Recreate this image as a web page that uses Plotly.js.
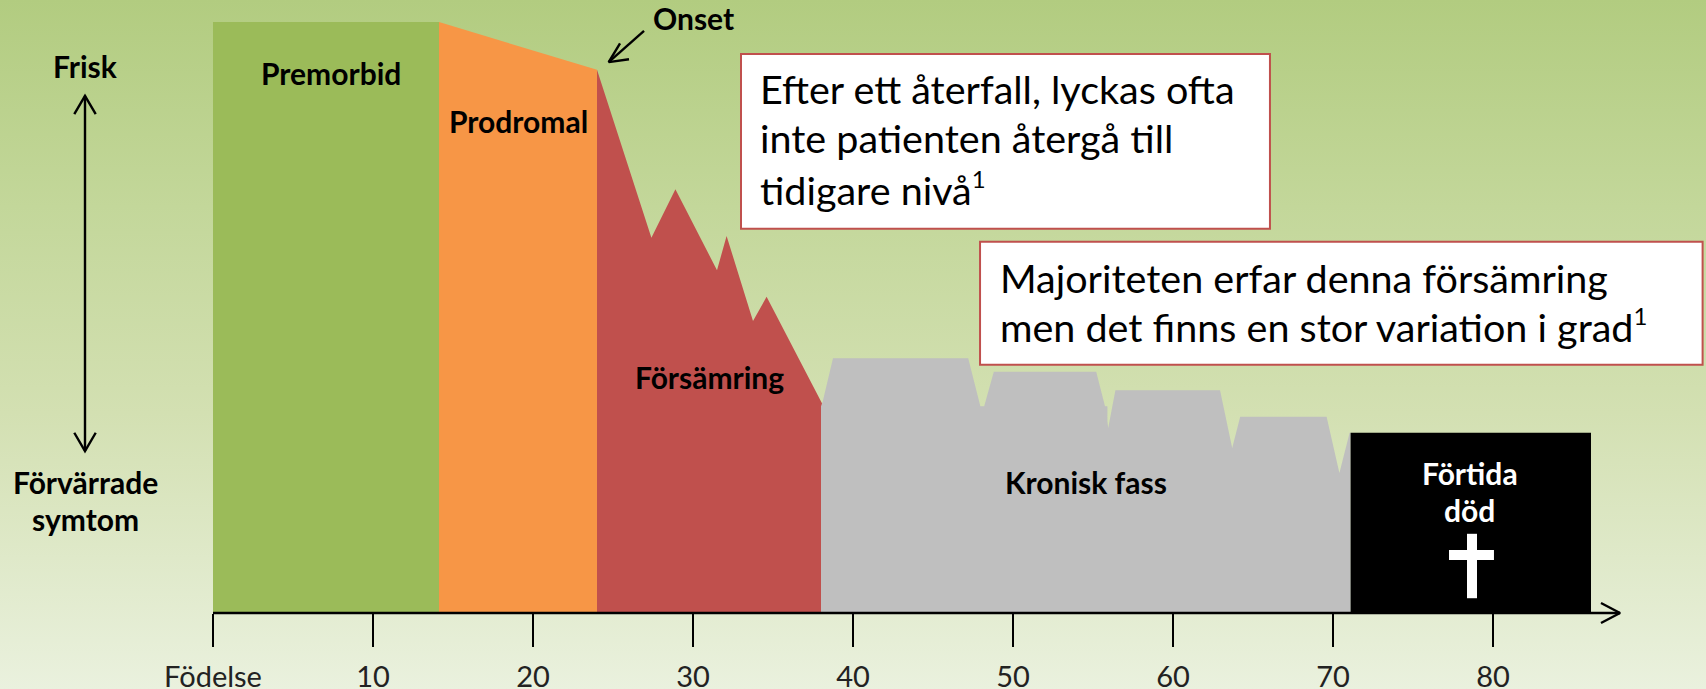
<!DOCTYPE html>
<html><head><meta charset="utf-8">
<script src="https://cdn.plot.ly/plotly-3.0.1.min.js"></script>
<style>
html,body{margin:0;padding:0;width:1706px;height:689px;overflow:hidden;background:linear-gradient(180deg,#b2cc80 0%,#c3d79a 30%,#d3e0b2 60%,#eaf1de 100%);}
#c{width:1706px;height:689px;}
</style></head><body><div id="c"></div>
<script>
const tickVals=[0,10,20,30,40,50,60,70,80];
const tickLabels=['Födelse','10','20','30','40','50','60','70','80'];
const premorbidAge=[0,14.125,14.125,0];
const premorbidLevel=[100,100,0,0];
const prodromalAge=[14.125,24,24,14.125];
const prodromalLevel=[100,91.9,0,0];
const worseningAge=[24,27.4,28.9,31.5,32.1,33.75,34.6,38.06,38.06,24];
const worseningLevel=[91.9,63.5,71.7,58,63.8,49.4,53.5,35.5,0,0];
const chronicAge=[38,38,38.1,38.75,47.2,47.96,48.2,48.8,55.2,55.75,55.9,55.9,55.95,56.4,62.94,63.7,64.2,69.6,70.4,71.04,71.1,71.1];
const chronicLevel=[0,35,35.7,43.1,43.1,35,35,40.8,40.8,35,35,32.5,31.3,37.7,37.7,27.9,33.2,33.2,23.7,30.5,30.5,0];
const deathAge=[71.1,86.125,86.125,71.1];
const deathLevel=[30.5,30.5,0,0];
const areaColors=['#9bbb59','#f79646','#c0504d','#bfbfbf','#000000'];

const areas=[[premorbidAge,premorbidLevel],[prodromalAge,prodromalLevel],[worseningAge,worseningLevel],[chronicAge,chronicLevel],[deathAge,deathLevel]];
const traces=areas.map((a,i)=>({x:a[0],y:a[1],type:'scatter',mode:'lines',fill:'toself',fillcolor:areaColors[i],line:{width:0,color:areaColors[i]},hoverinfo:'skip',showlegend:false}));

const arrowX=[0,87.94,null,86.75,87.94,86.75,null,-8,-8,null,-8.67,-8,-7.33,null,-8.67,-8,-7.33,null,26.94,24.73,null,26,24.73,25.44];
const arrowY=[0,0,null,1.7,0,-1.7,null,87.5,27.4,null,84.4,87.5,84.4,null,30.5,27.4,30.5,null,98.5,93.2,null,93.7,93.2,96.4];
traces.push({x:arrowX,y:arrowY,type:'scatter',mode:'lines',line:{color:'#000',width:2.4},cliponaxis:false,hoverinfo:'skip',showlegend:false,connectgaps:false});

const boldLabels=[['Onset',30,100.6],['Premorbid',7.375,91.4],['Prodromal',19.1,83.3],['Försämring',31,39.9],['Kronisk fass',54.56,22.1],['Frisk',-8,92.6],['Förvärrade',-8,22.2],['symtom',-8,15.9]];
const whiteLabels=[['Förtida',78.56,23.65],['död',78.56,17.46]];
const sup1='<sup><span style="font-size:24px">1</span></sup>';
const boxLines=[['Efter ett återfall, lyckas ofta',34.05,88.8],['inte patienten återgå till',34.05,80.5],['tidigare nivå'+sup1,34.05,71.9],['Majoriteten erfar denna försämring',49.05,56.8],['men det finns en stor variation i grad'+sup1,49.05,48.7]];
const boxes=[[33,66.06,65,94.6],[47.94,93.1,42,62.8]];
const crossBars=[[78.375,79,2.5,13.4],[77.25,80.06,8.97,10.66]];

const F='Lato, sans-serif';
const ann=[];
boldLabels.forEach(l=>ann.push({x:l[1],y:l[2],text:'<b>'+l[0]+'</b>',showarrow:false,xanchor:'center',yanchor:'middle',font:{family:F,size:30,color:'#000'}}));
whiteLabels.forEach(l=>ann.push({x:l[1],y:l[2],text:'<b>'+l[0]+'</b>',showarrow:false,xanchor:'center',yanchor:'middle',font:{family:F,size:30,color:'#fff'}}));
boxLines.forEach(l=>ann.push({x:l[1],y:l[2],text:l[0],showarrow:false,xanchor:'left',yanchor:'middle',align:'left',font:{family:F,size:39.5,color:'#000'}}));

const shapes=[];
boxes.forEach(b=>shapes.push({type:'rect',xref:'x',yref:'y',x0:b[0],x1:b[1],y0:b[2],y1:b[3],fillcolor:'#fff',line:{color:'#c0504d',width:2}}));
crossBars.forEach(b=>shapes.push({type:'rect',xref:'x',yref:'y',x0:b[0],x1:b[1],y0:b[2],y1:b[3],fillcolor:'#fff',line:{width:0}}));

Plotly.newPlot('c',traces,{
  width:1706,height:689,margin:{l:0,r:0,t:0,b:0,pad:0},
  paper_bgcolor:'rgba(0,0,0,0)',plot_bgcolor:'rgba(0,0,0,0)',showlegend:false,
  xaxis:{range:[-13.3125,93.3125],anchor:'free',position:76/689,showgrid:false,zeroline:false,showline:false,tickmode:'array',tickvals:tickVals,ticktext:tickLabels,ticks:'outside',ticklen:33,tickwidth:2,tickcolor:'#000',ticklabelstandoff:5,tickangle:0,tickfont:{family:F,size:29,color:'#222'},fixedrange:true,automargin:false},
  yaxis:{range:[-12.86,103.72],visible:false,fixedrange:true},
  annotations:ann,shapes:shapes
},{displayModeBar:false,staticPlot:true});
</script></body></html>
